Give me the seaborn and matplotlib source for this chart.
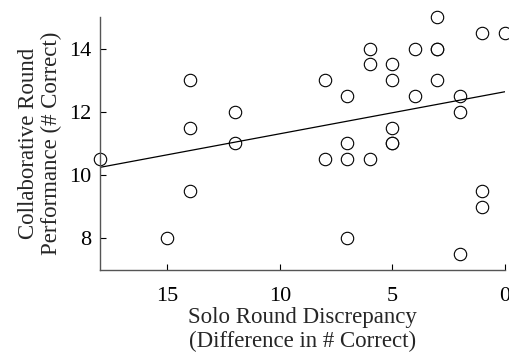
import matplotlib
matplotlib.use("Agg")
import matplotlib.pyplot as plt
import numpy as np
import pandas as pd
import seaborn as sns

# solo round discrepancy (x) and collaborative round score (y)
discrepancy = [18, 15, 14, 14, 14, 12, 12,
               8, 8, 7, 7, 7, 7, 6, 6, 6,
               5, 5, 5, 5, 5, 4, 4, 3, 3, 3, 3,
               2, 2, 2, 1, 1, 1, 0]
performance = [10.5, 8, 13, 11.5, 9.5, 12, 11,
               13, 10.5, 12.5, 11, 10.5, 8, 14, 13.5, 10.5,
               13.5, 13, 11.5, 11, 11, 14, 12.5, 15, 14, 14, 13,
               12.5, 12, 7.5, 14.5, 9.5, 9, 14.5]

df = pd.DataFrame({"Solo": discrepancy, "Collab": performance})

sns.set_style("ticks")
plt.rcParams['font.family'] = ['Liberation Serif', 'DejaVu Serif']

fig = plt.figure(figsize=(5.09, 3.52), dpi=100)
ax = fig.add_axes([0.196, 0.233, 0.796, 0.719])

sns.regplot(data=df, x="Solo", y="Collab", ax=ax, ci=None,
            scatter_kws=dict(s=80, facecolors="white", edgecolors="black", linewidths=0.8, alpha=1),
            line_kws=dict(color="black", linewidth=0.9))

ax.set_xlim(18, 0)
ax.set_ylim(7, 15)
ax.set_xticks([15, 10, 5, 0])
ax.set_yticks([8, 10, 12, 14])
ax.tick_params(direction="in", length=4, labelsize=16, colors="black")
ax.tick_params(axis="x", pad=12)
ax.tick_params(axis="y", pad=6)
for sp in ["top", "right"]:
    ax.spines[sp].set_visible(False)
for sp in ["left", "bottom"]:
    ax.spines[sp].set_color("#555555")
    ax.spines[sp].set_linewidth(1.0)
ax.set_xlabel("Solo Round Discrepancy\n(Difference in # Correct)", fontsize=16.5, linespacing=1.2, labelpad=1)
ax.set_ylabel("Collaborative Round\nPerformance (# Correct)", fontsize=16.5, linespacing=1.15, labelpad=5)
for c in ax.collections:
    c.set_clip_on(False)

fig.savefig("out.png", dpi=100)
